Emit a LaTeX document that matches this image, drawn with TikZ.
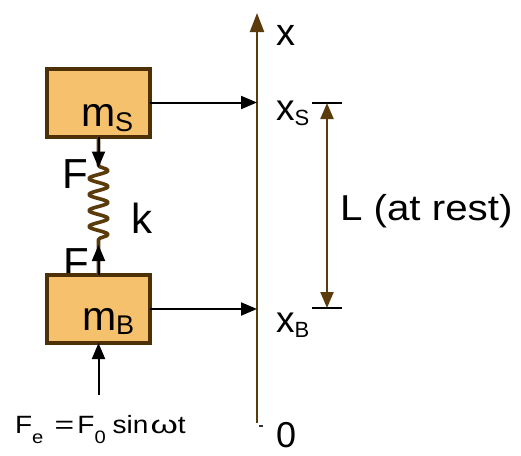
\documentclass[tikz,border=0pt]{standalone}
\usepackage{fontspec}
\setmainfont{Liberation Sans}
\usetikzlibrary{arrows.meta,decorations.pathmorphing,calc}
\definecolor{boxfill}{HTML}{F5C16C}
\definecolor{boxline}{HTML}{4E3006}
\definecolor{brn}{HTML}{5B3A0B}
\newcommand\fsz[1]{\fontsize{#1}{#1}\selectfont}
\begin{document}
\begin{tikzpicture}[x=1pt,y=-1pt,
  massbox/.style={draw=boxline,fill=boxfill,line width=4pt,minimum width=103pt,minimum height=68pt,inner sep=0pt,outer sep=0pt},
  lbl/.style={inner sep=0pt,outer sep=0pt,anchor=base west},
  blk/.style={draw=black,line width=2pt,-{Triangle[length=16pt,width=13pt]}},
  brnarrow/.style={draw=brn,line width=2.2pt},
  tick/.style={draw=black,line width=2pt},
  springline/.style={draw=brn,line width=3.6pt,line join=round,decorate,
    decoration={snake,segment length=16pt,amplitude=9.5pt,pre length=29pt,post length=28pt}}
]
\useasboundingbox (0,0) rectangle (521,455);

% axis
\coordinate (axbot) at (257,423);
\coordinate (axtop) at (257,13);
\draw[brnarrow,-{Triangle[length=19pt,width=14pt]}] (axbot) -- (axtop);
\coordinate (zt1) at (258.5,426);
\coordinate (zt2) at (263,426);
\draw[draw=black!80,line width=1.5pt] (zt1) -- (zt2);

% masses
\node[massbox] (ms) at (98.5,102.5) {};
\node[lbl] (Ftop) at (62,188) {\fsz{42}F};
\node[lbl] (Fbot) at (63,277) {\fsz{42}F};
\node[massbox] (mb) at (98.5,309) {};
\node[lbl] (mslbl) at (81,126) {\fsz{41}m\raisebox{-5pt}{\fsz{27}S}};
\node[lbl] (mblbl) at (82,330) {\fsz{41}m\raisebox{-4pt}{\fsz{27}B}};

% spring
\draw[springline] (ms.south) -- (mb.north);
\coordinate (Ftip) at ($(ms.south)+(0,31)$);
\coordinate (Fbtip) at ($(mb.north)+(0,-30)$);
\draw[blk] (ms.south) -- (Ftip);
\draw[blk] (mb.north) -- (Fbtip);
\node[lbl] (k) at (131,233) {\fsz{42}k};

% external force
\coordinate (Febase) at (98.5,395);
\draw[blk] (Febase) -- (mb.south);
\node[lbl] (Fe) at (15,433) {\fsz{25}\scalebox{1.12}[1]{F\raisebox{-10pt}{\fsz{18}e}\hspace{10pt}\scalebox{1.2}[1]{=}\hspace{3pt}F\raisebox{-10pt}{\fsz{18}0}\hspace{6pt}sin\hspace{2pt}\scalebox{1.25}[1]{ω}t}};

% position arrows
\draw[blk] (ms.east) -- (ms.east -| axtop);
\draw[blk] (mb.east) -- (mb.east -| axtop);

% labels on axis
\node[lbl] (xl) at (276,45) {\fsz{38}x};
\node[lbl] (xs) at (276,120) {\fsz{37}x\raisebox{-5pt}{\fsz{22}S}};
\node[lbl] (xb) at (276,332) {\fsz{37}x\raisebox{-5pt}{\fsz{22}B}};
\node[lbl] (zero) at (276,447) {\fsz{36}0};

% L dimension
\coordinate (Ltop) at (327,103);
\coordinate (Lbot) at (327,308);
\draw[tick] ([xshift=-15pt]Ltop) -- ([xshift=15pt]Ltop);
\draw[tick] ([xshift=-15pt]Lbot) -- ([xshift=15pt]Lbot);
\draw[brnarrow,{Triangle[length=16pt,width=13pt]}-{Triangle[length=16pt,width=13pt]}] (Lbot) -- (Ltop);
\node[lbl] (Llbl) at (340,220) {\fsz{36}\scalebox{1.12}[1]{L (at rest)}};
\end{tikzpicture}
\end{document}
